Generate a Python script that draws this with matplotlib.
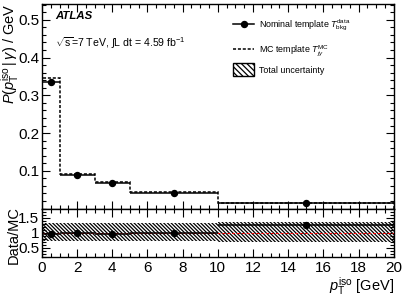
import numpy as np
import matplotlib
matplotlib.use("Agg")
import matplotlib.pyplot as plt
from matplotlib.lines import Line2D
from matplotlib.patches import Patch
from matplotlib.ticker import MultipleLocator

plt.rcParams['font.family'] = ['Liberation Sans', 'DejaVu Sans']
plt.rcParams['mathtext.fontset'] = 'custom'
plt.rcParams['mathtext.rm'] = 'Liberation Sans'
plt.rcParams['mathtext.it'] = 'Liberation Sans:italic'
plt.rcParams['mathtext.bf'] = 'Liberation Sans:bold'
plt.rcParams['hatch.linewidth'] = 0.9
plt.rcParams['hatch.color'] = 'black'

# bin edges in pT^iso [GeV]
edges = [0, 1, 3, 5, 10, 20]
nominal = [0.335, 0.090, 0.068, 0.041, 0.016]     # T_bkg^data
mc_templ = [0.346, 0.092, 0.071, 0.044, 0.0146]   # T_jgamma^MC
ratio = [0.97, 1.00, 0.96, 0.99, 1.27]            # Data/MC
unc_lo = [0.73, 0.73, 0.73, 0.73, 0.68]
unc_hi = [1.32, 1.32, 1.32, 1.32, 1.35]

edges = np.array(edges, dtype=float)
centers = 0.5 * (edges[1:] + edges[:-1])
halfw = 0.5 * (edges[1:] - edges[:-1])

fig = plt.figure(figsize=(4.15, 2.98), dpi=100)
ax = fig.add_axes([0.101, 0.300, 0.848, 0.6866])
ax2 = fig.add_axes([0.101, 0.1386, 0.848, 0.1614], sharex=ax)

# main panel
ax.stairs(mc_templ, edges, color='black', linestyle=(0, (2, 1.2)), linewidth=1.1)
ax.errorbar(centers, nominal, xerr=halfw, fmt='o', color='black',
            markersize=4.3, linewidth=1.1, capsize=0)

ax.set_xlim(0, 20)
ax.set_ylim(0, 0.542)
ax.yaxis.set_minor_locator(MultipleLocator(0.02))
ax.set_yticks([0.1, 0.2, 0.3, 0.4, 0.5])
ax.set_yticklabels(['0.1', '0.2', '0.3', '0.4', '0.5'])
ax.set_ylabel(r'$P(p_{\rm T}^{\rm iso}\,|\,\gamma)$ / GeV', fontsize=10.5, loc='top')
ax.yaxis.set_label_coords(-0.06, 1.0)
plt.setp(ax.get_xticklabels(), visible=False)

ax.text(0.037, 0.943, 'ATLAS', transform=ax.transAxes, fontsize=8.2,
        fontweight='bold', fontstyle='italic', va='center')
ax.text(0.037, 0.81, r'$\sqrt{\rm s}$=7 TeV, $\int$L dt = 4.59 fb$^{-1}$',
        transform=ax.transAxes, fontsize=7.6, va='center')

h1 = Line2D([], [], color='black', marker='o', markersize=4.3, linewidth=1.1)
h2 = Line2D([], [], color='black', linestyle=(0, (2, 1.2)), linewidth=1.1)
h3 = Patch(facecolor='white', edgecolor='black', hatch='\\\\\\\\\\\\', linewidth=1)
leg1 = ax.legend([h1, h2], [r'Nominal template $T^{\rm data}_{\rm bkg}$',
                            r'MC template $T^{\rm MC}_{j\gamma}$'],
                 loc='upper left', bbox_to_anchor=(0.52, 0.975), frameon=False,
                 fontsize=6.4, handlelength=2.4, labelspacing=1.15, handletextpad=0.5)
ax.add_artist(leg1)
ax.legend([h3], ['Total uncertainty'], loc='upper left',
          bbox_to_anchor=(0.52, 0.75), frameon=False, fontsize=6.4,
          handlelength=2.4, handleheight=1.9, handletextpad=0.5)

# ratio panel
ax2.stairs(unc_hi, edges, baseline=unc_lo, fill=True, facecolor='white',
           edgecolor='black', hatch='\\\\\\\\\\\\\\\\\\', linewidth=0)
ax2.axhline(1.0, color='red', linestyle=(0, (3, 2)), linewidth=0.7)
ax2.errorbar(centers, ratio, xerr=halfw, fmt='o', color='black',
             markersize=4.3, linewidth=1.1, capsize=0)
ax2.set_ylim(0.2, 1.8)
ax2.set_yticks([0.5, 1.0, 1.5])
ax2.set_yticklabels(['0.5', '1', '1.5'])
ax2.yaxis.set_minor_locator(MultipleLocator(0.1))
ax2.set_ylabel('Data/MC', fontsize=10.5)
ax2.yaxis.set_label_coords(-0.06, 0.45)
ax2.set_xticks(np.arange(0, 21, 2))
ax2.xaxis.set_minor_locator(MultipleLocator(0.5))
ax2.set_xlabel(r'$p_{\rm T}^{\rm iso}$ [GeV]', fontsize=10.5, loc='right', labelpad=0)

for a in (ax, ax2):
    a.tick_params(which='both', direction='in', top=True, right=True,
                  labelsize=11, width=0.8)
    a.tick_params(which='major', length=6)
    a.tick_params(which='minor', length=3)
    a.tick_params(axis='x', pad=3)
    a.tick_params(axis='y', pad=2)
    for s in a.spines.values():
        s.set_linewidth(1)

fig.savefig('out.png', dpi=100)
